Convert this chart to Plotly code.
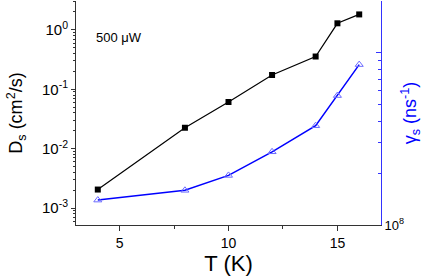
import plotly.graph_objects as go

T = [4, 8, 10, 12, 14, 15, 16]
Ds = [2.05e-3, 0.0225, 0.061, 0.174, 0.356, 1.29, 1.82]
gamma_s = [1.395e8, 1.59e8, 1.94e8, 2.66e8, 3.77e8, 5.64e8, 8.53e8]

left_tickvals = [1e-3, 1e-2, 1e-1, 1e0]
left_ticktext = ["10<sup>-3</sup>", "10<sup>-2</sup>", "10<sup>-1</sup>", "10<sup>0</sup>"]
right_tickvals = [1e8, 1e9]
right_ticktext = ["10<sup>8</sup>", ""]

FONT = "Liberation Sans, Arial, sans-serif"

fig = go.Figure()
fig.add_trace(go.Scatter(
    x=T, y=Ds, mode="lines+markers",
    line=dict(color="black", width=1.2),
    marker=dict(symbol="square", size=6, color="black"),
    yaxis="y", showlegend=False, hoverinfo="skip"))
fig.add_trace(go.Scatter(
    x=T, y=gamma_s, mode="lines+markers",
    line=dict(color="#0000ff", width=1.5),
    marker=dict(symbol="triangle-up-open", size=7, color="#6a6aff", line=dict(width=1)),
    yaxis="y2", showlegend=False, hoverinfo="skip"))

minor_left = [m * 10 ** e for e in range(-4, 1) for m in range(2, 10)]
minor_right = [m * 1e8 for m in range(2, 10)] + [2e9]

fig.update_layout(
    width=436, height=277,
    margin=dict(l=76, r=55, t=1, b=52),
    plot_bgcolor="white", paper_bgcolor="white",
    font=dict(family=FONT, color="black", size=13),
    xaxis=dict(
        range=[3, 17], tickvals=[5, 10, 15], ticks="outside", ticklen=5,
        tickcolor="#333", linecolor="#333", linewidth=1, showline=True,
        showgrid=False, zeroline=False, tickfont=dict(size=14), automargin=False,
        minor=dict(tickvals=[2.5, 7.5, 12.5, 17.5], ticks="outside", ticklen=3, tickcolor="#333"),
        title=dict(text="T (K)", font=dict(size=22), standoff=0)),
    xaxis2=dict(
        range=[3, 17], overlaying="x", side="top", anchor="y", automargin=False,
        tickvals=[5, 10, 15], ticks="inside", ticklen=4, tickcolor="#333",
        showticklabels=False, showline=True, linecolor="#333", linewidth=1,
        showgrid=False, zeroline=False,
        minor=dict(tickvals=[7.5, 12.5], ticks="inside", ticklen=3, tickcolor="#333")),
    yaxis=dict(
        type="log", range=[-3.285, 0.486], tickvals=left_tickvals, ticktext=left_ticktext,
        ticks="outside", ticklen=4, tickcolor="#333", showline=True, linecolor="#333",
        linewidth=1, showgrid=False, zeroline=False, tickfont=dict(size=15), automargin=False,
        minor=dict(tickvals=minor_left, ticks="outside", ticklen=2, tickcolor="#333"),
        title=dict(text="D<sub>s</sub> (cm<sup>2</sup>/s)", font=dict(size=18), standoff=14)),
    yaxis2=dict(
        type="log", range=[8, 9.30], overlaying="y", side="right", anchor="x",
        tickvals=right_tickvals, ticktext=right_ticktext, automargin=False,
        ticks="inside", ticklen=5, tickcolor="#3333ff", showline=True, linecolor="#3333ff",
        linewidth=1, showgrid=False, zeroline=False, tickfont=dict(size=13, color="black"),
        minor=dict(tickvals=minor_right, ticks="inside", ticklen=3, tickcolor="#3333ff"),
        title=dict(text="γ<sub>s</sub> (ns<sup>-1</sup>)", font=dict(size=18, color="#0000ff"), standoff=0)),
    annotations=[dict(text="500 μW", x=0.058, y=0.835, xref="paper", yref="paper",
                      xanchor="left", yanchor="middle", showarrow=False,
                      font=dict(size=13, color="black"))],
)

fig.write_html("out.html", config={"displayModeBar": False},
               post_script="document.body.style.margin='0';document.body.style.padding='0';")
